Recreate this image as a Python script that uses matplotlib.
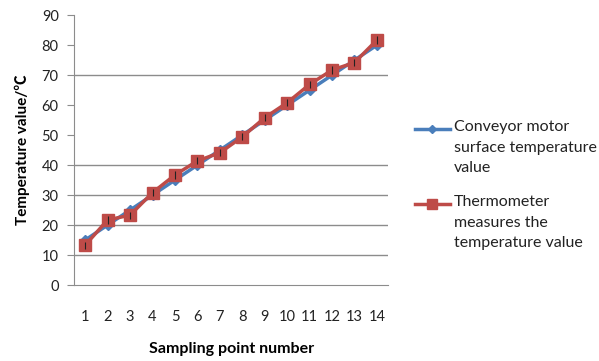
import matplotlib
matplotlib.use('Agg')
import matplotlib.pyplot as plt
from matplotlib.lines import Line2D

plt.rcParams['font.family'] = ['Lato', 'Noto Sans CJK SC', 'DejaVu Sans']

# data
samples = list(range(1, 15))
motor_surface = [15, 20, 25, 30, 35, 40, 45, 50, 55, 60, 65, 70, 75, 80]
thermometer = [13.3, 21.7, 23.3, 30.8, 36.7, 41.4, 44.1, 49.4, 55.8, 60.8, 66.9, 71.7, 74.2, 81.7]
y_ticks = [0, 10, 20, 30, 40, 50, 60, 70, 80, 90]
grid_levels = [10, 20, 30, 40, 70]
legend_labels = ['Conveyor motor\nsurface temperature\nvalue',
                 'Thermometer\nmeasures the\ntemperature value']

blue = '#4a7ebb'
red = '#be4b48'

fig = plt.figure(figsize=(5.99, 3.61), dpi=100)
ax = fig.add_axes([0.1235, 0.2105, 0.5245, 0.7475])

for g in grid_levels:
    ax.axhline(g, color='#8c8c8c', lw=1.0, zorder=0)

ax.plot(samples, motor_surface, color=blue, lw=2.5, marker='D',
        markersize=5.5, zorder=2)
ax.plot(samples, thermometer, color=red, lw=2.5, marker='s',
        markersize=9, zorder=3)
ax.errorbar(samples, thermometer, yerr=1.2, fmt='none', ecolor='#222222',
            elinewidth=0.8, capsize=0, zorder=4)

ax.set_xlim(0.5, 14.5)
ax.set_ylim(0, 90)
ax.set_yticks(y_ticks)
ax.set_xticks(samples)
ax.tick_params(axis='y', length=5, color='#8c8c8c', labelsize=10.5, labelcolor='#222222', pad=6)
ax.tick_params(axis='x', length=0, labelsize=10.5, labelcolor='#222222', pad=18)

for side in ['top', 'right']:
    ax.spines[side].set_visible(False)
for side in ['left', 'bottom']:
    ax.spines[side].set_color('#8c8c8c')

ax.set_ylabel('Temperature value/℃', fontsize=11, fontweight='bold', labelpad=8)
ax.set_xlabel('Sampling point number', fontsize=11.5, fontweight='bold', labelpad=13)

# legend drawn by hand so the key sits on the first text line
legend_styles = [(blue, 'D', 5.5), (red, 's', 9)]
key_y = [1 - 129 / 361, 1 - 204 / 361]
for (col, mk, ms), lab, yy in zip(legend_styles, legend_labels, key_y):
    fig.add_artist(Line2D([415 / 599, 432 / 599, 450 / 599], [yy] * 3,
                          transform=fig.transFigure, color=col, lw=2.5,
                          marker=mk, markersize=ms * 0.8, markevery=[1]))
    fig.text(454 / 599, yy + 9 / 361, lab, fontsize=11.5, color='#222222', va='top',
             linespacing=1.6, transform=fig.transFigure)

fig.savefig('out.png', dpi=100)
